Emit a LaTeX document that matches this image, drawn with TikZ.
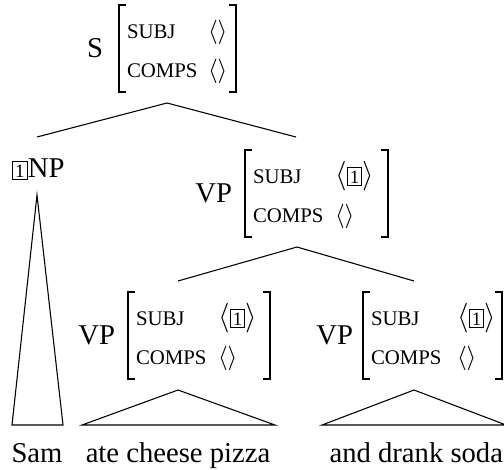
\documentclass[tikz,border=0pt]{standalone}
\usepackage{fontspec}
\setmainfont{Liberation Serif}
\newcommand{\tagbx}[1]{{\setlength{\fboxsep}{0.8pt}\setlength{\fboxrule}{0.4pt}\fbox{\fontsize{7}{8}\selectfont #1}}}
\newcommand{\feat}[1]{{\fontsize{7.7}{9}\selectfont\MakeUppercase{#1}}}
\newcommand{\emptyl}{{\fontsize{9}{10}\selectfont$\langle\rangle$}}
\newcommand{\subjval}{$\langle\tagbx{1}\rangle$}
% #1 name, #2 label, #3 label right x, #4 left bracket x, #5 right bracket x, #6 top y, #7 value x, #8 subj value
\newcommand{\avmblk}[8]{%
  \node[lbl,anchor=base east] (#1-lab) at (#3,{#6+52}) {#2};
  \draw[brk] ({#4+7},#6) -- (#4,#6) -- (#4,{#6+87}) -- ({#4+7},{#6+87});
  \draw[brk] ({#5-7},#6) -- (#5,#6) -- (#5,{#6+87}) -- ({#5-7},{#6+87});
  \node[ftr] (#1-subj) at ({#4+8},{#6+33}) {\feat{subj}};
  \node[ftr] (#1-comps) at ({#4+8},{#6+72}) {\feat{comps}};
  \node[ftr] (#1-subjv) at (#7,{#6+33}) {#8};
  \node[ftr] (#1-compsv) at (#7,{#6+72}) {\emptyl};
}
\begin{document}
\begin{tikzpicture}[x=0.37pt,y=-0.37pt,
  every node/.style={inner sep=0pt,outer sep=0pt},
  lbl/.style={font=\fontsize{10.6}{12}\selectfont},
  ftr/.style={anchor=base west,font=\fontsize{10.6}{12}\selectfont},
  brk/.style={line width=0.6pt},
  edge/.style={line width=0.4pt}]
\useasboundingbox (0,0) rectangle (504,469);

% AVMs
\avmblk{S}{S}{103}{119}{236}{5}{208}{\emptyl}
\avmblk{VPm}{VP}{232}{245}{388}{150}{335}{\subjval}
\avmblk{VPa}{VP}{115}{128}{270}{292}{218}{\subjval}
\avmblk{VPb}{VP}{353}{363}{502}{292}{457}{\subjval}

% NP
\node[lbl,anchor=base west] (NP-lab) at (12,177) {\tagbx{1}NP};

% tree coordinates
\coordinate (S-apex) at (167,103);
\coordinate (NP-top) at (37,137);
\coordinate (VPm-top) at (296,137);
\coordinate (VPm-apex) at (297,247);
\coordinate (VPa-top) at (178,281);
\coordinate (VPb-top) at (414,281);
\coordinate (NP-apex) at (37,195);
\coordinate (NP-bl) at (12,425);
\coordinate (NP-br) at (63,425);
\coordinate (VPa-apex) at (178,390);
\coordinate (VPa-bl) at (82,425);
\coordinate (VPa-br) at (275,425);
\coordinate (VPb-apex) at (414,390);
\coordinate (VPb-bl) at (322,425);
\coordinate (VPb-br) at (506,425);

\draw[edge] (NP-top) -- (S-apex) -- (VPm-top);
\draw[edge] (VPa-top) -- (VPm-apex) -- (VPb-top);
\draw[edge] (NP-apex) -- (NP-bl) -- (NP-br) -- cycle;
\draw[edge] (VPa-apex) -- (VPa-bl) -- (VPa-br) -- cycle;
\draw[edge] (VPb-apex) -- (VPb-bl) -- (VPb-br) -- cycle;

% words
\node[lbl,anchor=base] (w-sam) at (37,462) {Sam};
\node[lbl,anchor=base] (w-ate) at (178,462) {ate cheese pizza};
\node[lbl,anchor=base east] (w-and) at (503,462) {and drank soda};
\end{tikzpicture}
\end{document}
